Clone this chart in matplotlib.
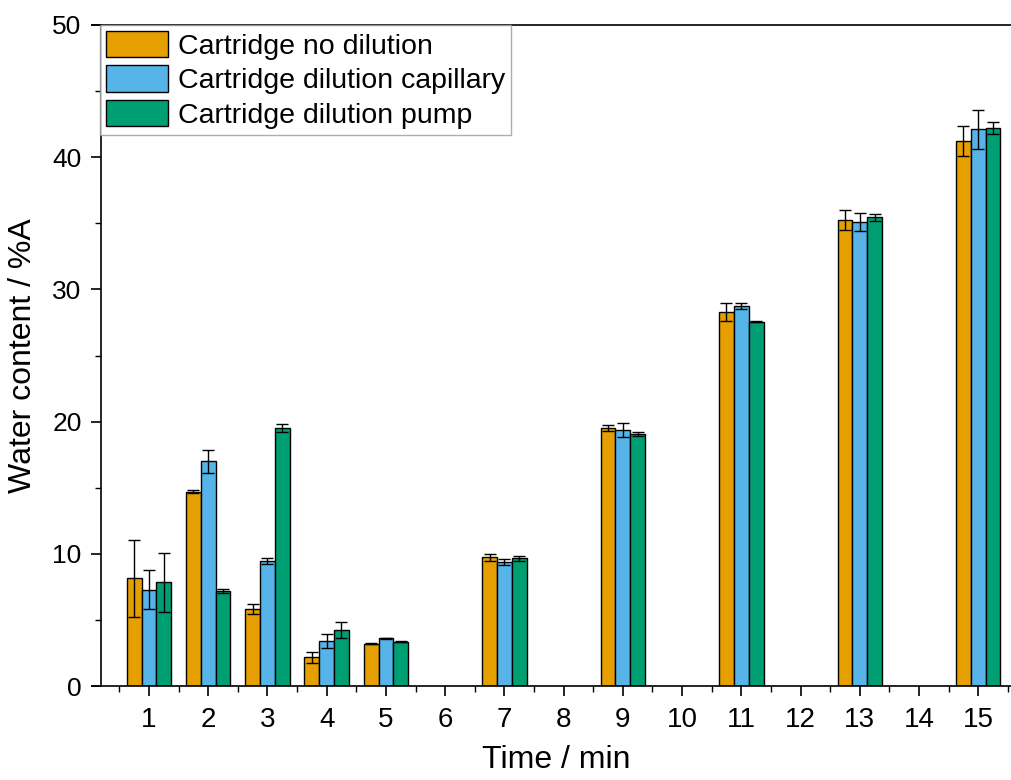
import numpy as np
import matplotlib
matplotlib.use("Agg")
import matplotlib.pyplot as plt
from matplotlib.ticker import MultipleLocator, FixedLocator

plt.rcParams['font.family'] = ['Liberation Sans', 'DejaVu Sans']

# Time points (min) that have measurements
times = [1, 2, 3, 4, 5, 7, 9, 11, 13, 15]

no_dilution = [8.15, 14.7, 5.8, 2.17, 3.2, 9.73, 19.52, 28.3, 35.25, 41.25]
no_dilution_err = [2.9, 0.1, 0.38, 0.4, 0.02, 0.28, 0.2, 0.67, 0.73, 1.13]

dil_capillary = [7.29, 17.0, 9.46, 3.4, 3.6, 9.36, 19.36, 28.74, 35.1, 42.1]
dil_capillary_err = [1.46, 0.88, 0.25, 0.5, 0.02, 0.22, 0.55, 0.25, 0.65, 1.5]

dil_pump = [7.84, 7.19, 19.52, 4.26, 3.35, 9.66, 19.06, 27.56, 35.45, 42.2]
dil_pump_err = [2.25, 0.12, 0.28, 0.6, 0.05, 0.17, 0.15, 0.05, 0.25, 0.48]

labels = ['Cartridge no dilution', 'Cartridge dilution capillary', 'Cartridge dilution pump']
colors = ['#E69F00', '#56B4E9', '#009E73']

fig = plt.figure(figsize=(10.12, 7.8), dpi=100)
ax = fig.add_axes([101 / 1012, 94 / 780, 911 / 1012, 661 / 780])

x = np.array(times, dtype=float)
width = 0.25
series = [(no_dilution, no_dilution_err), (dil_capillary, dil_capillary_err), (dil_pump, dil_pump_err)]
for i, (vals, errs) in enumerate(series):
    ax.bar(x + (i - 1) * width, vals, width, yerr=errs, color=colors[i],
           edgecolor='black', linewidth=1.0, label=labels[i],
           error_kw=dict(ecolor='black', elinewidth=1.0, capsize=4.5, capthick=1.0))

ax.set_xlim(0.19, 15.57)
ax.set_ylim(0, 50)
ax.set_xticks(range(1, 16))
ax.xaxis.set_minor_locator(FixedLocator(np.arange(0.5, 15.6, 1)))
ax.yaxis.set_major_locator(MultipleLocator(10))
ax.yaxis.set_minor_locator(MultipleLocator(5))

ax.tick_params(axis='both', which='major', direction='out', length=7, width=1.2)
ax.tick_params(axis='both', which='minor', direction='out', length=4, width=1.0)
ax.tick_params(axis='x', which='major', pad=8, labelsize=20)
ax.tick_params(axis='y', which='major', pad=7, labelsize=19)

for s in ax.spines.values():
    s.set_linewidth(1.2)
ax.spines['right'].set_visible(False)
# horizontal axis lines run a little past the left axis, as in the original
ax.spines['bottom'].set_bounds(0.04, 15.57)
ax.spines['top'].set_bounds(0.04, 15.57)

ax.set_xlabel('Time / min', fontsize=23, labelpad=9)
ax.set_ylabel('Water content / %A', fontsize=23, labelpad=10)

leg = ax.legend(loc='upper left', bbox_to_anchor=(-0.001, 1.0), fontsize=20.5,
                frameon=True, fancybox=False,
                handlelength=2.2, handleheight=1.05, handletextpad=0.35,
                labelspacing=0.2, borderpad=0.2, borderaxespad=0.0)
leg.get_frame().set_edgecolor('#999999')
leg.get_frame().set_linewidth(1.0)

fig.savefig('out.png', dpi=100)
